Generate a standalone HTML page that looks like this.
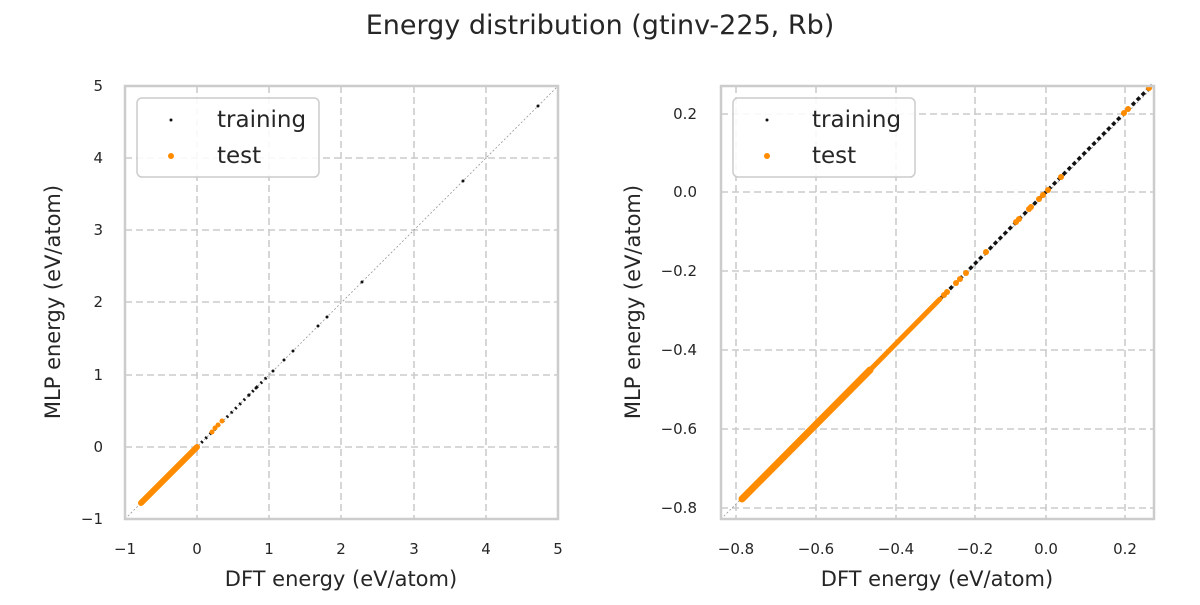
<!DOCTYPE html>
<html><head><meta charset="utf-8"><style>
body{margin:0;background:#fff;}
text{font-family:"DejaVu Sans","Liberation Sans",sans-serif;fill:#262626;}
</style></head><body>
<svg width="1200" height="600" xmlns="http://www.w3.org/2000/svg">
<rect width="1200" height="600" fill="#fff"/>
<text x="600" y="34" font-size="27" text-anchor="middle">Energy distribution (gtinv-225, Rb)</text>

<!-- LEFT -->
<g stroke="#cccccc" stroke-width="1.6" stroke-dasharray="7,4" fill="none">
<line x1="197" y1="86" x2="197" y2="519"/><line x1="269" y1="86" x2="269" y2="519"/>
<line x1="341" y1="86" x2="341" y2="519"/><line x1="414" y1="86" x2="414" y2="519"/>
<line x1="486" y1="86" x2="486" y2="519"/>
<line x1="125" y1="447" x2="558" y2="447"/><line x1="125" y1="375" x2="558" y2="375"/>
<line x1="125" y1="302" x2="558" y2="302"/><line x1="125" y1="230" x2="558" y2="230"/>
<line x1="125" y1="158" x2="558" y2="158"/>
</g>
<line x1="125" y1="519" x2="558" y2="86" stroke="#999" stroke-width="0.8" stroke-dasharray="2,2"/>
<line x1="197" y1="447" x2="269" y2="375" stroke="#111" stroke-width="3" stroke-dasharray="2,4"/>
<g fill="#111">
<circle cx="273" cy="371" r="1.5"/><circle cx="284" cy="360" r="1.5"/><circle cx="293" cy="351" r="1.5"/>
<circle cx="318" cy="326" r="1.5"/><circle cx="327" cy="317" r="1.5"/><circle cx="362" cy="282" r="1.5"/>
<circle cx="463" cy="181" r="1.5"/><circle cx="538" cy="106" r="1.5"/><circle cx="249" cy="395" r="1.5"/><circle cx="256" cy="388" r="1.5"/>
</g>
<line x1="141" y1="503" x2="197" y2="447" stroke="#ff8c00" stroke-width="6" stroke-linecap="round"/>
<g fill="#ff8c00">
<circle cx="212" cy="432" r="2.5"/><circle cx="215" cy="428" r="2.5"/><circle cx="218" cy="425" r="2.5"/><circle cx="222" cy="421" r="2.5"/>
</g>
<rect x="125" y="86" width="433" height="433" fill="none" stroke="#cccccc" stroke-width="2.5"/>
<g font-size="15" text-anchor="middle">
<text x="125" y="554">−1</text><text x="197" y="554">0</text><text x="269" y="554">1</text>
<text x="341" y="554">2</text><text x="414" y="554">3</text><text x="486" y="554">4</text><text x="558" y="554">5</text>
</g>
<g font-size="15" text-anchor="end">
<text x="103" y="524">−1</text><text x="103" y="452">0</text><text x="103" y="380">1</text>
<text x="103" y="307">2</text><text x="103" y="235">3</text><text x="103" y="163">4</text><text x="103" y="91">5</text>
</g>
<text x="341" y="586" font-size="21" text-anchor="middle">DFT energy (eV/atom)</text>
<text transform="translate(60,302) rotate(-90)" font-size="21" text-anchor="middle">MLP energy (eV/atom)</text>
<rect x="137" y="98" width="182" height="79" rx="5" fill="#fff" fill-opacity="0.85" stroke="#cccccc" stroke-width="1.5"/>
<circle cx="171" cy="120" r="1.5" fill="#111"/><circle cx="171" cy="156" r="3" fill="#ff8c00"/>
<text x="217" y="127" font-size="23">training</text><text x="217" y="163" font-size="23">test</text>

<!-- RIGHT -->
<g stroke="#cccccc" stroke-width="1.6" stroke-dasharray="7,4" fill="none">
<line x1="736" y1="86" x2="736" y2="519"/><line x1="816" y1="86" x2="816" y2="519"/>
<line x1="896" y1="86" x2="896" y2="519"/><line x1="975" y1="86" x2="975" y2="519"/>
<line x1="1046" y1="86" x2="1046" y2="519"/><line x1="1125" y1="86" x2="1125" y2="519"/>
<line x1="721" y1="114" x2="1154" y2="114"/><line x1="721" y1="192" x2="1154" y2="192"/>
<line x1="721" y1="271" x2="1154" y2="271"/><line x1="721" y1="350" x2="1154" y2="350"/>
<line x1="721" y1="429" x2="1154" y2="429"/><line x1="721" y1="508" x2="1154" y2="508"/>
</g>
<line x1="721" y1="519" x2="1154" y2="86" stroke="#999" stroke-width="0.8" stroke-dasharray="2,2"/>
<line x1="930" y1="309" x2="1152" y2="85" stroke="#111" stroke-width="3.5" stroke-dasharray="4,3"/>
<line x1="742" y1="499" x2="870" y2="370" stroke="#ff8c00" stroke-width="7" stroke-linecap="round"/>
<line x1="870" y1="370" x2="940" y2="299" stroke="#ff8c00" stroke-width="5" stroke-linecap="round"/>
<g fill="#ff8c00">
<circle cx="944" cy="295" r="3"/><circle cx="947" cy="292" r="3"/><circle cx="960" cy="279" r="3"/><circle cx="966" cy="273" r="3"/>
<circle cx="1016" cy="222" r="3"/><circle cx="1019" cy="219" r="3"/><circle cx="1031" cy="207" r="3"/><circle cx="1039" cy="199" r="3"/>
<circle cx="1043" cy="195" r="3"/><circle cx="1048" cy="190" r="3"/><circle cx="1061" cy="177" r="3"/>
<circle cx="1124" cy="113" r="3"/><circle cx="1128" cy="109" r="3"/><circle cx="1149" cy="88" r="3"/>
<circle cx="986" cy="252" r="3"/><circle cx="956" cy="283" r="3"/><circle cx="1029" cy="209" r="3"/>
</g>
<rect x="721" y="86" width="433" height="433" fill="none" stroke="#cccccc" stroke-width="2.5"/>
<g font-size="15" text-anchor="middle">
<text x="736" y="554">−0.8</text><text x="816" y="554">−0.6</text><text x="896" y="554">−0.4</text>
<text x="975" y="554">−0.2</text><text x="1046" y="554">0.0</text><text x="1125" y="554">0.2</text>
</g>
<g font-size="15" text-anchor="end">
<text x="697" y="119">0.2</text><text x="697" y="197">0.0</text><text x="697" y="276">−0.2</text>
<text x="697" y="355">−0.4</text><text x="697" y="434">−0.6</text><text x="697" y="513">−0.8</text>
</g>
<text x="937" y="586" font-size="21" text-anchor="middle">DFT energy (eV/atom)</text>
<text transform="translate(640,302) rotate(-90)" font-size="21" text-anchor="middle">MLP energy (eV/atom)</text>
<rect x="733" y="98" width="182" height="79" rx="5" fill="#fff" fill-opacity="0.85" stroke="#cccccc" stroke-width="1.5"/>
<circle cx="767" cy="120" r="1.5" fill="#111"/><circle cx="767" cy="156" r="3" fill="#ff8c00"/>
<text x="812" y="127" font-size="23">training</text><text x="812" y="163" font-size="23">test</text>
</svg>
</body></html>
